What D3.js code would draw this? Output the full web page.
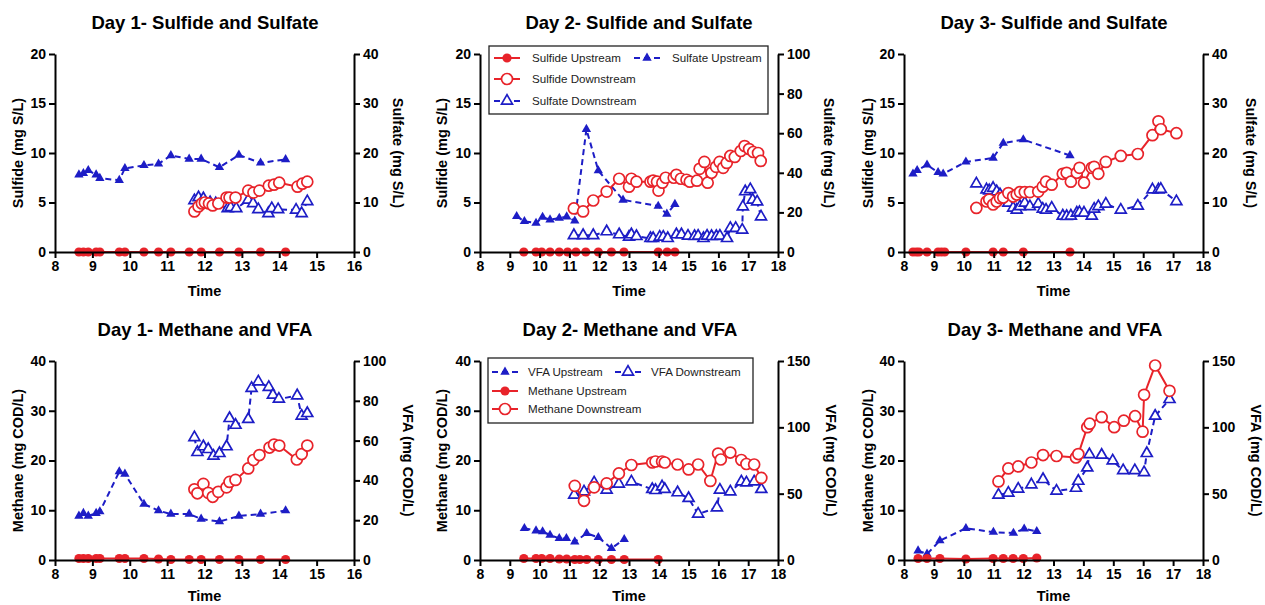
<!DOCTYPE html>
<html>
<head>
<meta charset="utf-8">
<script src="https://cdn.jsdelivr.net/npm/d3@7"></script>
<style>
body { margin: 0; background: #fff; }
svg { display: block; font-family: "Liberation Sans", Arial, sans-serif; }
</style>
</head>
<body>
<svg id="chart" width="1265" height="605"></svg>
<script>
// ---- Day 1 ----
const d1UpTime = [8.64, 8.76, 8.89, 9.10, 9.20, 9.72, 9.87, 10.38, 10.77, 11.10, 11.59, 11.91, 12.40, 12.92, 13.50, 14.17];
const d1SulfideUp = [0, 0, 0, 0, 0, 0, 0, 0, 0, 0, 0, 0, 0, 0, 0, 0];
const d1SulfateUp = [15.6, 15.9, 16.5, 15.6, 14.9, 14.5, 16.9, 17.5, 17.8, 19.5, 18.8, 18.8, 17.1, 19.6, 18.0, 18.7];
const d1SulfideDownTime = [11.73, 11.84, 11.93, 12.01, 12.12, 12.22, 12.37, 12.59, 12.67, 12.83, 13.17, 13.31, 13.47, 13.72, 13.86, 14.00, 14.49, 14.62, 14.75];
const d1SulfideDown = [4.1, 4.6, 4.9, 5.0, 4.9, 4.7, 4.9, 5.5, 5.5, 5.5, 6.2, 6.0, 6.2, 6.7, 6.8, 7.0, 6.6, 6.9, 7.1];
const d1SulfateDownTime = [11.73, 11.84, 11.97, 12.15, 12.30, 12.62, 12.70, 12.85, 13.17, 13.30, 13.44, 13.71, 13.80, 13.97, 14.45, 14.60, 14.75];
const d1SulfateDown = [10.4, 11.0, 10.8, 10.0, 9.8, 8.8, 9.0, 8.8, 10.5, 9.8, 8.6, 7.8, 8.8, 8.6, 8.5, 7.8, 10.2];

const d1MethaneUp = [0.3, 0.3, 0.3, 0.3, 0.3, 0.3, 0.3, 0.3, 0.2, 0.1, 0.1, 0.1, 0.1, 0.1, 0.1, 0.1];
const d1VfaUp = [22.1, 23.5, 22.1, 23.5, 24.3, 44.4, 43.2, 28.1, 24.8, 23.1, 23.1, 20.6, 19.3, 22.1, 23.1, 24.8];
const d1MethaneDownTime = [11.73, 11.81, 11.97, 12.10, 12.22, 12.37, 12.59, 12.67, 12.83, 13.17, 13.31, 13.47, 13.74, 13.86, 14.00, 14.47, 14.60, 14.75];
const d1MethaneDown = [14.2, 13.4, 15.3, 13.5, 12.7, 13.7, 14.6, 15.7, 16.1, 18.4, 20.1, 21.1, 22.6, 23.2, 23.0, 20.2, 21.3, 23.0];
const d1VfaDownTime = [11.73, 11.81, 11.97, 12.10, 12.24, 12.40, 12.59, 12.67, 12.83, 13.17, 13.26, 13.44, 13.72, 13.83, 13.99, 14.48, 14.60, 14.75];
const d1VfaDown = [61.6, 54.1, 57.0, 55.6, 52.3, 53.6, 57.0, 71.2, 67.8, 70.7, 86.3, 89.6, 86.8, 82.9, 80.9, 82.6, 72.4, 73.7];

// ---- Day 2 ----
const d2SulfideUpTime = [9.47, 9.88, 10.07, 10.35, 10.66, 10.94, 11.22, 11.55, 11.97, 12.41, 12.83, 13.98, 14.28, 14.54];
const d2SulfideUp = [0, 0, 0, 0, 0, 0, 0, 0, 0, 0, 0, 0, 0, 0];
const d2SulfateUpTime = [9.23, 9.49, 9.88, 10.10, 10.35, 10.66, 10.91, 11.18, 11.57, 11.97, 12.80, 13.98, 14.27, 14.54];
const d2SulfateUp = [18.0, 15.5, 14.6, 17.6, 16.3, 17.1, 17.8, 15.7, 62.0, 41.1, 26.3, 23.2, 19.2, 24.1];
const d2SulfideDownTime = [11.15, 11.46, 11.80, 12.25, 12.67, 13.00, 13.08, 13.25, 13.72, 13.81, 13.94, 13.99, 14.12, 14.23, 14.50, 14.59, 14.74, 14.93, 15.04, 15.28, 15.37, 15.53, 15.64, 15.77, 15.92, 16.04, 16.16, 16.28, 16.40, 16.55, 16.75, 16.88, 17.03, 17.17, 17.33, 17.42];
const d2SulfideDown = [4.4, 4.1, 5.2, 6.1, 7.4, 6.6, 7.4, 7.1, 7.1, 7.2, 7.1, 6.2, 7.0, 7.5, 7.5, 7.8, 7.4, 7.3, 7.1, 7.2, 8.4, 9.1, 7.0, 8.0, 8.6, 9.1, 8.5, 9.0, 9.7, 9.6, 10.2, 10.7, 10.4, 10.1, 10.0, 9.2];
const d2SulfateDownTime = [11.15, 11.46, 11.80, 12.25, 12.67, 13.00, 13.08, 13.25, 13.72, 13.81, 14.03, 14.15, 14.30, 14.59, 14.76, 14.98, 15.20, 15.32, 15.50, 15.62, 15.77, 15.93, 16.05, 16.29, 16.40, 16.58, 16.80, 16.82, 16.90, 17.07, 17.15, 17.30, 17.43];
const d2SulfateDown = [8.4, 8.4, 8.4, 10.3, 8.8, 7.6, 8.8, 7.9, 6.9, 6.9, 7.6, 7.6, 6.9, 8.8, 8.8, 8.1, 7.9, 8.1, 6.9, 8.1, 7.9, 7.9, 8.1, 6.9, 12.0, 12.0, 11.1, 22.9, 30.5, 31.6, 26.3, 25.4, 17.8];

const d2MethaneUpTime = [9.47, 9.88, 10.07, 10.35, 10.66, 10.91, 11.18, 11.35, 11.58, 11.97, 12.41, 12.84, 13.98];
const d2MethaneUp = [0.3, 0.3, 0.3, 0.3, 0.2, 0.2, 0.1, 0.1, 0.1, 0.1, 0.1, 0.1, 0.1];
const d2VfaUpTime = [9.49, 9.88, 10.10, 10.35, 10.66, 10.90, 11.18, 11.58, 11.97, 12.41, 12.84];
const d2VfaUp = [23.9, 22.1, 21.4, 18.8, 16.3, 16.3, 13.8, 20.1, 17.1, 8.8, 15.6];
const d2MethaneDownTime = [11.18, 11.49, 11.83, 12.25, 12.66, 13.08, 13.78, 13.89, 14.11, 14.20, 14.63, 15.00, 15.32, 15.73, 15.99, 16.08, 16.40, 16.77, 16.94, 17.20, 17.44];
const d2MethaneDown = [14.9, 11.9, 14.6, 15.4, 17.4, 19.1, 19.6, 19.8, 19.8, 19.6, 19.2, 18.2, 19.2, 15.9, 21.4, 20.2, 21.6, 20.1, 19.3, 19.2, 16.5];
const d2VfaDownTime = [11.16, 11.49, 11.83, 12.25, 12.66, 13.08, 13.78, 13.89, 14.11, 14.20, 14.63, 15.00, 15.32, 15.95, 16.05, 16.40, 16.77, 16.94, 17.20, 17.44];
const d2VfaDown = [49.0, 51.5, 58.3, 52.8, 57.3, 59.0, 53.3, 52.5, 55.3, 53.3, 50.8, 46.5, 34.7, 39.4, 52.8, 51.5, 59.0, 58.3, 59.0, 53.3];

// ---- Day 3 ----
const d3UpTime = [8.30, 8.41, 8.50, 8.77, 9.14, 9.25, 9.36, 10.07, 10.98, 11.32, 11.99, 13.55];
const d3SulfideUp = [0, 0, 0, 0, 0, 0, 0, 0, 0, 0, 0, 0];
const d3SulfateUpTime = [8.30, 8.44, 8.77, 9.14, 9.31, 10.07, 10.98, 11.32, 11.99, 13.55];
const d3SulfateUp = [15.8, 16.5, 17.6, 16.1, 15.8, 18.2, 19.0, 22.0, 22.7, 19.5];
const d3DownTime = [10.42, 10.76, 10.85, 10.98, 11.10, 11.21, 11.32, 11.49, 11.65, 11.77, 11.88, 12.04, 12.21, 12.49, 12.64, 12.75, 12.94, 13.31, 13.44, 13.58, 13.78, 13.87, 14.02, 14.28, 14.36, 14.50, 14.75, 15.25, 15.82, 16.31, 16.51, 16.59, 17.11];
const d3SulfideDown = [4.45, 5.1, 5.3, 4.8, 5.1, 5.45, 5.5, 5.95, 5.6, 5.8, 6.05, 6.05, 6.05, 6.1, 6.6, 7.1, 6.8, 7.9, 8.0, 7.1, 8.0, 8.5, 7.0, 8.5, 8.6, 7.9, 9.1, 9.7, 9.9, 11.8, 13.2, 12.4, 12.0];
const d3SulfateDown = [13.8, 12.6, 12.4, 12.9, 12.2, 11.6, 10.9, 9.9, 8.9, 8.5, 9.2, 9.9, 9.2, 9.7, 8.7, 8.5, 8.9, 7.3, 7.2, 7.3, 7.9, 8.0, 7.9, 7.3, 8.7, 9.2, 9.7, 8.5, 9.3, 12.6, 12.6, 12.7, 10.2];

const d3MethaneUpTime = [8.47, 8.77, 9.20, 10.07, 10.98, 11.32, 11.65, 11.99, 12.44];
const d3MethaneUp = [0.3, 0.3, 0.3, 0.2, 0.3, 0.3, 0.3, 0.3, 0.4];
const d3VfaUpTime = [8.47, 8.77, 9.20, 10.07, 10.99, 11.66, 12.02, 12.44];
const d3VfaUp = [7.0, 4.5, 14.6, 23.9, 21.0, 20.3, 23.5, 21.6];
const d3MethaneDownTime = [11.16, 11.49, 11.82, 12.26, 12.65, 13.10, 13.75, 13.83, 14.13, 14.21, 14.61, 15.03, 15.35, 15.73, 15.98, 16.03, 16.40, 16.88];
const d3MethaneDown = [15.8, 18.4, 18.8, 19.6, 21.1, 20.9, 20.6, 21.3, 26.7, 27.4, 28.7, 26.7, 28.0, 28.9, 25.8, 33.2, 39.1, 34.0];
const d3VfaDownTime = [11.16, 11.49, 11.82, 12.26, 12.65, 13.10, 13.75, 13.83, 14.13, 14.20, 14.61, 14.98, 15.33, 15.72, 16.03, 16.12, 16.40, 16.88];
const d3VfaDown = [49.0, 50.5, 53.5, 56.8, 60.8, 52.0, 54.2, 59.5, 69.5, 79.5, 79.1, 74.8, 67.5, 67.5, 66.0, 80.4, 108.5, 121.1];

// ---- ticks ----
const ticksSulfide = [0, 5, 10, 15, 20];
const ticksSulfate40 = [0, 10, 20, 30, 40];
const ticksSulfate100 = [0, 20, 40, 60, 80, 100];
const ticksMethane = [0, 10, 20, 30, 40];
const ticksVfa100 = [0, 20, 40, 60, 80, 100];
const ticksVfa150 = [0, 50, 100, 150];

const red = "#e8232a";
const blue = "#1d1dc6";

const zip = (t, v) => t.map((d, i) => [d, v[i]]);

const S = {
  sulfideUp: { name: "Sulfide Upstream", color: red, mark: "dot", dash: false },
  sulfideDown: { name: "Sulfide Downstream", color: red, mark: "ring", dash: false },
  sulfateUp: { name: "Sulfate Upstream", color: blue, mark: "tri", dash: true },
  sulfateDown: { name: "Sulfate Downstream", color: blue, mark: "otri", dash: true },
  methaneUp: { name: "Methane Upstream", color: red, mark: "dot", dash: false },
  methaneDown: { name: "Methane Downstream", color: red, mark: "ring", dash: false },
  vfaUp: { name: "VFA Upstream", color: blue, mark: "tri", dash: true },
  vfaDown: { name: "VFA Downstream", color: blue, mark: "otri", dash: true }
};

const panels = [
  { title: "Day 1- Sulfide and Sulfate", xMax: 16, left: [0, 20], right: [0, 40], lt: ticksSulfide, rt: ticksSulfate40,
    ll: "Sulfide (mg S/L)", rl: "Sulfate (mg S/L)",
    box: { x0: 55, x1: 354, y0: 54, y1: 252, tx: 205, ty: 29, lx: 18, rx: 398, timeY: 296 },
    series: [
      [S.sulfateUp, zip(d1UpTime, d1SulfateUp), "R"],
      [S.sulfateDown, zip(d1SulfateDownTime, d1SulfateDown), "R"],
      [S.sulfideUp, zip(d1UpTime, d1SulfideUp), "L"],
      [S.sulfideDown, zip(d1SulfideDownTime, d1SulfideDown), "L"]
    ] },
  { title: "Day 2- Sulfide and Sulfate", xMax: 18, left: [0, 20], right: [0, 100], lt: ticksSulfide, rt: ticksSulfate100,
    ll: "Sulfide (mg S/L)", rl: "Sulfate (mg S/L)",
    box: { x0: 480, x1: 778, y0: 54, y1: 252, tx: 639, ty: 29, lx: 442, rx: 829, timeY: 296 },
    legend: { x: 489, y: 46, w: 279, h: 68, items: [
      [S.sulfideUp, 507, 58], [S.sulfideDown, 507, 79], [S.sulfateDown, 507, 101], [S.sulfateUp, 647, 58]
    ], textDx: 25 },
    series: [
      [S.sulfateUp, zip(d2SulfateUpTime, d2SulfateUp), "R"],
      [S.sulfateDown, zip(d2SulfateDownTime, d2SulfateDown), "R"],
      [S.sulfideUp, zip(d2SulfideUpTime, d2SulfideUp), "L"],
      [S.sulfideDown, zip(d2SulfideDownTime, d2SulfideDown), "L"]
    ] },
  { title: "Day 3- Sulfide and Sulfate", xMax: 18, left: [0, 20], right: [0, 40], lt: ticksSulfide, rt: ticksSulfate40,
    ll: "Sulfide (mg S/L)", rl: "Sulfate (mg S/L)",
    box: { x0: 904, x1: 1203, y0: 54, y1: 252, tx: 1054, ty: 29, lx: 868, rx: 1251, timeY: 296 },
    series: [
      [S.sulfateUp, zip(d3SulfateUpTime, d3SulfateUp), "R"],
      [S.sulfateDown, zip(d3DownTime, d3SulfateDown), "R"],
      [S.sulfideUp, zip(d3UpTime, d3SulfideUp), "L"],
      [S.sulfideDown, zip(d3DownTime, d3SulfideDown), "L"]
    ] },
  { title: "Day 1- Methane and VFA", xMax: 16, left: [0, 40], right: [0, 100], lt: ticksMethane, rt: ticksVfa100,
    ll: "Methane (mg COD/L)", rl: "VFA (mg COD/L)",
    box: { x0: 55, x1: 354, y0: 361, y1: 560, tx: 205, ty: 336, lx: 18, rx: 408, timeY: 601 },
    series: [
      [S.vfaUp, zip(d1UpTime, d1VfaUp), "R"],
      [S.vfaDown, zip(d1VfaDownTime, d1VfaDown), "R"],
      [S.methaneUp, zip(d1UpTime, d1MethaneUp), "L"],
      [S.methaneDown, zip(d1MethaneDownTime, d1MethaneDown), "L"]
    ] },
  { title: "Day 2- Methane and VFA", xMax: 18, left: [0, 40], right: [0, 150], lt: ticksMethane, rt: ticksVfa150,
    ll: "Methane (mg COD/L)", rl: "VFA (mg COD/L)",
    box: { x0: 480, x1: 778, y0: 361, y1: 560, tx: 630, ty: 336, lx: 442, rx: 831, timeY: 601 },
    legend: { x: 488, y: 358, w: 265, h: 65, items: [
      [S.vfaUp, 505, 372], [S.methaneUp, 505, 391], [S.methaneDown, 505, 409], [S.vfaDown, 628, 372]
    ], textDx: 23 },
    series: [
      [S.vfaUp, zip(d2VfaUpTime, d2VfaUp), "R"],
      [S.vfaDown, zip(d2VfaDownTime, d2VfaDown), "R"],
      [S.methaneUp, zip(d2MethaneUpTime, d2MethaneUp), "L"],
      [S.methaneDown, zip(d2MethaneDownTime, d2MethaneDown), "L"]
    ] },
  { title: "Day 3- Methane and VFA", xMax: 18, left: [0, 40], right: [0, 150], lt: ticksMethane, rt: ticksVfa150,
    ll: "Methane (mg COD/L)", rl: "VFA (mg COD/L)",
    box: { x0: 904, x1: 1203, y0: 361, y1: 560, tx: 1055, ty: 336, lx: 868, rx: 1256, timeY: 601 },
    series: [
      [S.vfaUp, zip(d3VfaUpTime, d3VfaUp), "R"],
      [S.vfaDown, zip(d3VfaDownTime, d3VfaDown), "R"],
      [S.methaneUp, zip(d3MethaneUpTime, d3MethaneUp), "L"],
      [S.methaneDown, zip(d3MethaneDownTime, d3MethaneDown), "L"]
    ] }
];

const svg = d3.select("#chart");

function addMarker(g, spec, cx, cy) {
  if (spec.mark === "dot") {
    g.append("circle").attr("cx", cx).attr("cy", cy).attr("r", 4.6).attr("fill", spec.color);
  } else if (spec.mark === "ring") {
    g.append("circle").attr("cx", cx).attr("cy", cy).attr("r", 5.5)
      .attr("fill", "#fff").attr("stroke", spec.color).attr("stroke-width", 1.7);
  } else {
    const open = spec.mark === "otri";
    g.append("path")
      .attr("d", d3.symbol(d3.symbolTriangle, open ? 52 : 38)())
      .attr("transform", `translate(${cx},${cy})`)
      .attr("fill", open ? "#fff" : spec.color)
      .attr("stroke", open ? spec.color : "none")
      .attr("stroke-width", 1.7);
  }
}

function styleAxis(g) {
  g.select(".domain").attr("stroke", "#000").attr("stroke-width", 2);
  g.selectAll(".tick line").attr("stroke", "#000").attr("stroke-width", 2);
  g.selectAll(".tick text").attr("fill", "#000").attr("font-size", 14).attr("font-weight", "bold");
}

panels.forEach(p => {
  const b = p.box;
  const x = d3.scaleLinear().domain([8, p.xMax]).range([b.x0, b.x1]);
  const yL = d3.scaleLinear().domain(p.left).range([b.y1, b.y0]);
  const yR = d3.scaleLinear().domain(p.right).range([b.y1, b.y0]);
  const g = svg.append("g");

  // series
  p.series.forEach(([spec, data, side]) => {
    const y = side === "L" ? yL : yR;
    const line = d3.line().x(d => x(d[0])).y(d => y(d[1]));
    g.append("path").datum(data)
      .attr("d", line)
      .attr("fill", "none")
      .attr("stroke", spec.color)
      .attr("stroke-width", 2)
      .attr("stroke-dasharray", spec.dash ? "6,4" : null);
    data.forEach(d => addMarker(g, spec, x(d[0]), y(d[1])));
  });

  // axes
  const xTicks = d3.range(8, p.xMax + 1);
  g.append("g").attr("transform", `translate(0,${b.y1})`)
    .call(d3.axisBottom(x).tickValues(xTicks).tickFormat(d3.format("d")).tickSize(6).tickSizeOuter(0).tickPadding(3))
    .call(styleAxis);
  g.append("g").attr("transform", `translate(${b.x0},0)`)
    .call(d3.axisLeft(yL).tickValues(p.lt).tickSize(6).tickSizeOuter(0).tickPadding(3))
    .call(styleAxis);
  g.append("g").attr("transform", `translate(${b.x1},0)`)
    .call(d3.axisRight(yR).tickValues(p.rt).tickSize(6).tickSizeOuter(0).tickPadding(3))
    .call(styleAxis);

  // titles
  g.append("text").attr("x", b.tx).attr("y", b.ty).attr("text-anchor", "middle")
    .attr("font-size", 18.5).attr("font-weight", "bold").text(p.title);
  g.append("text").attr("x", (b.x0 + b.x1) / 2).attr("y", b.timeY).attr("text-anchor", "middle")
    .attr("font-size", 14.5).attr("font-weight", "bold").text("Time");
  const cy = (b.y0 + b.y1) / 2;
  g.append("text").attr("transform", `translate(${b.lx},${cy}) rotate(-90)`)
    .attr("text-anchor", "middle").attr("dy", "0.35em")
    .attr("font-size", 14.5).attr("font-weight", "bold").text(p.ll);
  g.append("text").attr("transform", `translate(${b.rx},${cy}) rotate(90)`)
    .attr("text-anchor", "middle").attr("dy", "0.35em")
    .attr("font-size", 14.5).attr("font-weight", "bold").text(p.rl);

  // legend
  if (p.legend) {
    const L = p.legend;
    const lg = g.append("g");
    lg.append("rect").attr("x", L.x).attr("y", L.y).attr("width", L.w).attr("height", L.h)
      .attr("fill", "#fff").attr("stroke", "#222").attr("stroke-width", 1.3);
    L.items.forEach(([spec, sx, sy]) => {
      lg.append("line").attr("x1", sx - 13).attr("x2", sx + 13).attr("y1", sy).attr("y2", sy)
        .attr("stroke", spec.color).attr("stroke-width", 2)
        .attr("stroke-dasharray", spec.dash ? "6,4" : null);
      addMarker(lg, spec, sx, sy);
      lg.append("text").attr("x", sx + L.textDx).attr("y", sy).attr("dy", "0.35em")
        .attr("font-size", 11.6).attr("fill", "#222").text(spec.name);
    });
  }
});
</script>
</body>
</html>
